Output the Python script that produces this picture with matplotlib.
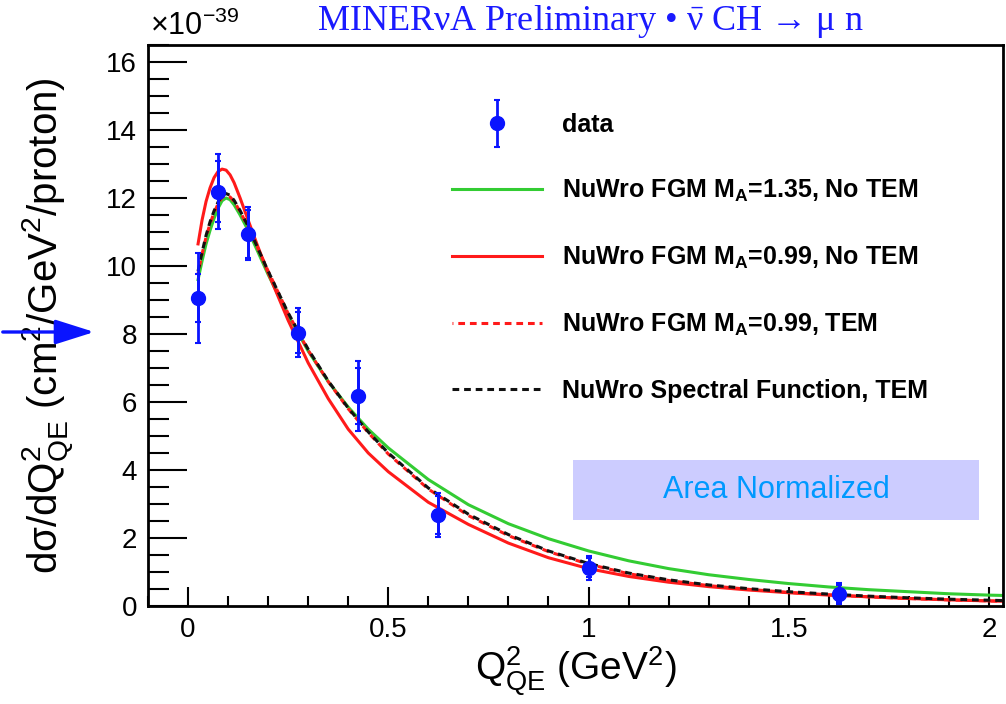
import numpy as np
import matplotlib
matplotlib.use("Agg")
import matplotlib.pyplot as plt
from matplotlib.patches import Rectangle, FancyArrowPatch
from matplotlib.legend_handler import HandlerErrorbar
import matplotlib.ticker as ticker

plt.rcParams['font.family'] = 'Liberation Sans'
plt.rcParams['mathtext.fontset'] = 'stix'
plt.rcParams['mathtext.default'] = 'regular'

# data points (bin centres) with stat and total errors
data_x = [0.025, 0.075, 0.15, 0.275, 0.425, 0.625, 1.0, 1.625]
data_y = [9.06, 12.19, 10.95, 8.04, 6.18, 2.68, 1.12, 0.36]
err_stat = [0.70, 0.90, 0.70, 0.60, 0.83, 0.55, 0.28, 0.25]
err_tot = [1.33, 1.10, 0.78, 0.72, 1.02, 0.64, 0.35, 0.31]

# model curves
curve_x = [0.025, 0.035, 0.045, 0.055, 0.065, 0.075, 0.085, 0.095, 0.105, 0.115, 0.13, 0.15,
           0.175, 0.2, 0.25, 0.3, 0.35, 0.4, 0.45, 0.5, 0.6, 0.7, 0.8, 0.9, 1.0, 1.1, 1.2,
           1.3, 1.4, 1.5, 1.6, 1.7, 1.8, 1.9, 2.0, 2.035]
fgm135 = [9.6, 10.15, 10.65, 11.05, 11.4, 11.7, 11.92, 12.0, 11.95, 11.8, 11.5, 11.05,
          10.4, 9.75, 8.55, 7.5, 6.6, 5.85, 5.2, 4.65, 3.72, 2.98, 2.42, 1.98, 1.62, 1.33, 1.1,
          0.92, 0.78, 0.66, 0.56, 0.48, 0.42, 0.36, 0.32, 0.31]
fgm099 = [10.65, 11.35, 11.9, 12.3, 12.6, 12.78, 12.85, 12.82, 12.68, 12.45, 12.0, 11.35,
          10.55, 9.8, 8.4, 7.15, 6.1, 5.2, 4.5, 3.95, 3.05, 2.4, 1.85, 1.42, 1.1, 0.87, 0.7,
          0.57, 0.47, 0.39, 0.32, 0.27, 0.22, 0.18, 0.15, 0.14]
fgm099_tem = [9.8, 10.35, 10.85, 11.25, 11.57, 11.83, 12.02, 12.07, 12.03, 11.9, 11.6, 11.15,
              10.5, 9.85, 8.6, 7.52, 6.6, 5.8, 5.1, 4.47, 3.44, 2.66, 2.07, 1.6, 1.23, 0.95, 0.75,
              0.6, 0.49, 0.4, 0.33, 0.27, 0.22, 0.18, 0.15, 0.14]
sf_tem = [9.85, 10.4, 10.9, 11.3, 11.62, 11.88, 12.08, 12.13, 12.08, 11.93, 11.63, 11.17,
          10.5, 9.85, 8.62, 7.55, 6.62, 5.82, 5.12, 4.5, 3.47, 2.7, 2.1, 1.62, 1.25, 0.97, 0.77,
          0.62, 0.51, 0.42, 0.35, 0.29, 0.24, 0.2, 0.17, 0.16]

labels = ['data',
          r'NuWro FGM M$_{A}$=1.35, No TEM',
          r'NuWro FGM M$_{A}$=0.99, No TEM',
          r'NuWro FGM M$_{A}$=0.99, TEM',
          'NuWro Spectral Function, TEM']

fig = plt.figure(figsize=(10.06, 7.04), dpi=100)
ax = fig.add_axes([148/1006, 98/704, (1003-148)/1006, (606-45)/704])

l_green, = ax.plot(curve_x, fgm135, color='#33cc33', lw=2.2)
l_red, = ax.plot(curve_x, fgm099, color='#ff1a1a', lw=2.2)
l_rdash, = ax.plot(curve_x, fgm099_tem, color='#ff1a1a', lw=2.2, linestyle=(1.9, (2.2, 1.6)))
l_black, = ax.plot(curve_x, sf_tem, color='#111111', lw=2.2, linestyle=(0, (2.2, 1.6)))
ax.errorbar(data_x, data_y, yerr=err_tot, fmt='none', ecolor='#0a14ff', elinewidth=2,
            capsize=2.5, capthick=1.5, zorder=5)
eb = ax.errorbar(data_x, data_y, yerr=err_stat, fmt='o', color='#0a14ff', ms=10, elinewidth=2,
                 capsize=2.5, capthick=1.5, zorder=6)

ax.set_xlim(-0.1, 2.035)
ax.set_ylim(0, 16.5)
ax.xaxis.set_major_locator(ticker.MultipleLocator(0.5))
ax.xaxis.set_minor_locator(ticker.MultipleLocator(0.1))
ax.yaxis.set_major_locator(ticker.MultipleLocator(2))
ax.yaxis.set_minor_locator(ticker.MultipleLocator(0.5))
ax.xaxis.set_major_formatter(ticker.FuncFormatter(lambda v, p: f'{v:g}'))
ax.tick_params(which='both', direction='in', labelsize=20, width=1.5, pad=8)
ax.tick_params(axis='x', which='major', length=14)
ax.tick_params(axis='x', which='minor', length=7)
ax.tick_params(axis='y', which='major', length=28)
ax.tick_params(axis='y', which='minor', length=15)
for s in ax.spines.values():
    s.set_linewidth(2)

ax.set_xlabel(r'Q$^{2}_{QE}$ (GeV$^{2}$)', fontsize=28)
ax.xaxis.set_label_coords(0.5, -(671-606)/561)
ax.xaxis.label.set_va('center')
ax.set_ylabel(r'd$\sigma$/dQ$^{2}_{QE}$ (cm$^{2}$/GeV$^{2}$/proton)', fontsize=29)
ax.yaxis.set_label_coords(-(148-48)/855, 0.5)
ax.yaxis.label.set_va('center')

fig.text(150/1006, 1-26/704, r'$\times$10$^{-39}$', fontsize=22, va='center', ha='left')
fig.text(590/1006, 1-21/704, 'MINERνA Preliminary • ' + r'$\bar{\nu}$' + ' CH → μ n',
         fontsize=26, color='#1a1aff', family=['Liberation Serif', 'DejaVu Serif'],
         ha='center', va='center')

# area normalized box
ax.add_patch(Rectangle((0.9625, 2.53), 1.0125, 1.76, facecolor='#ccccff', edgecolor='none', zorder=1))
ax.text(1.47, 3.41, 'Area Normalized', fontsize=22, color='#0099ff', ha='center', va='center', zorder=2)

# arrow pointing at the axis label
fig.add_artist(FancyArrowPatch((0, 1-332/704), (97/1006, 1-332/704),
               transform=fig.transFigure, arrowstyle='-|>,head_length=24,head_width=7.6',
               color='#0a14ff', lw=2.4, mutation_scale=1))

handles = [eb, l_green, l_red, l_rdash, l_black]
ax.legend(handles, labels, loc='upper left', bbox_to_anchor=((452-148)/855, 1-(113-45)/561),
          frameon=False, prop={'weight': 'bold', 'size': 18}, handlelength=3.6,
          handletextpad=0.8, labelspacing=1.63, borderpad=0, borderaxespad=0,
          handler_map={type(eb): HandlerErrorbar(yerr_size=0.95)})

plt.savefig('out.png', dpi=100)
